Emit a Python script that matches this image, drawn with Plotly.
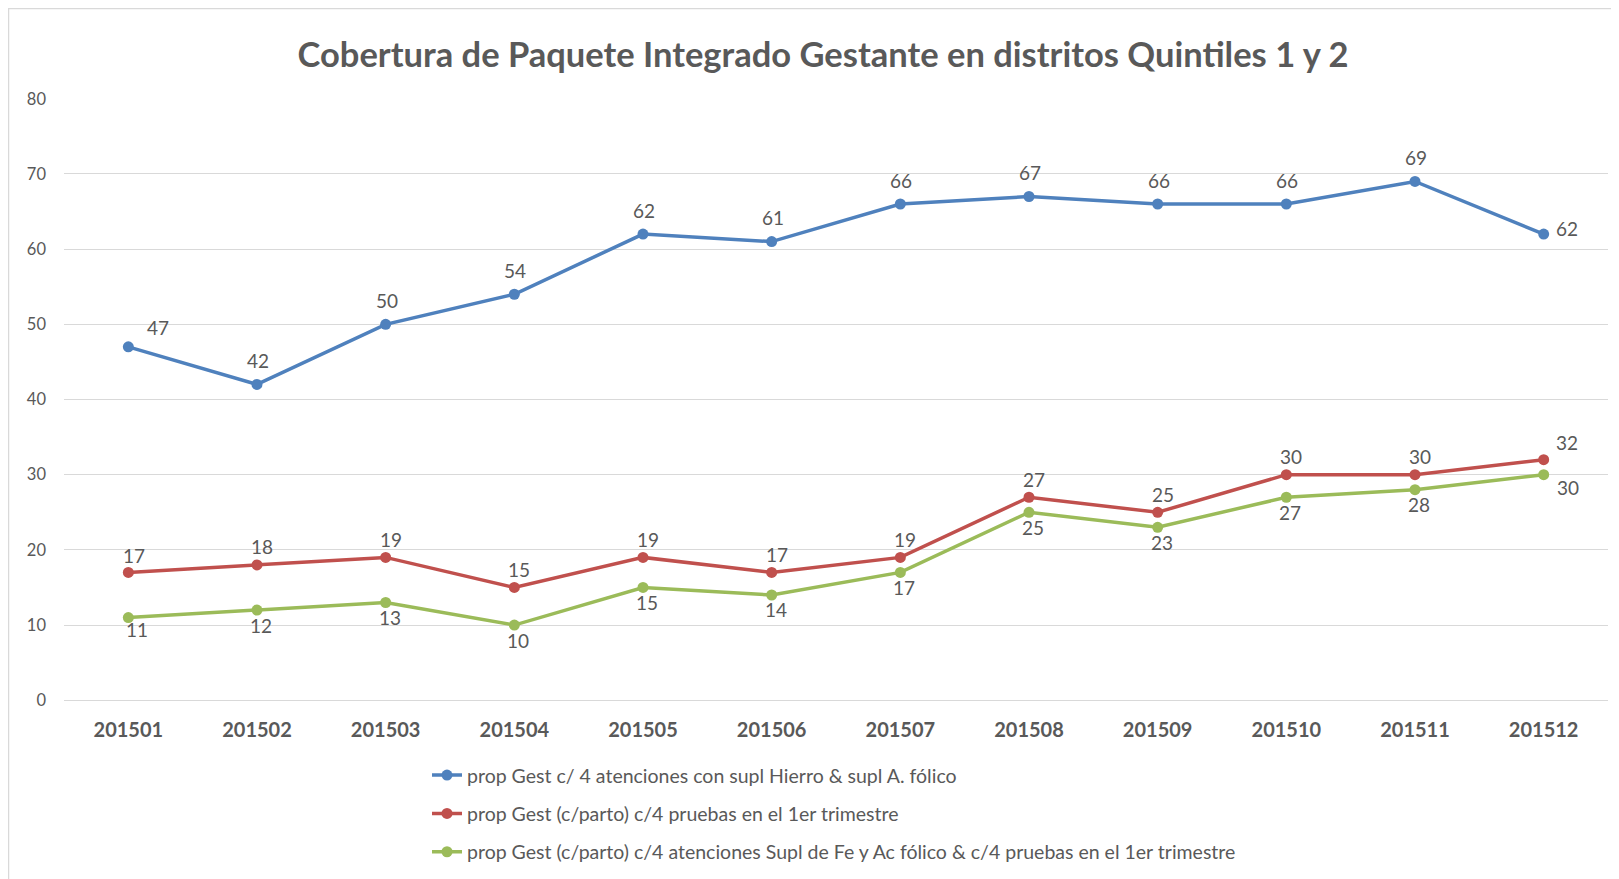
import plotly.graph_objects as go

categories = ["201501", "201502", "201503", "201504", "201505", "201506",
              "201507", "201508", "201509", "201510", "201511", "201512"]
serie_hierro = [47, 42, 50, 54, 62, 61, 66, 67, 66, 66, 69, 62]
serie_pruebas = [17, 18, 19, 15, 19, 17, 19, 27, 25, 30, 30, 32]
serie_completo = [11, 12, 13, 10, 15, 14, 17, 25, 23, 27, 28, 30]

names = [
    "prop Gest c/ 4 atenciones con supl Hierro & supl A. fólico",
    "prop Gest (c/parto) c/4 pruebas en el 1er trimestre",
    "prop Gest (c/parto) c/4 atenciones Supl de Fe y Ac fólico & c/4 pruebas en el 1er trimestre",
]
colors = ["#4F81BD", "#C0504D", "#9BBB59"]

FONT = "Lato"
GRAY = "#595959"

# page offset compensation (body margin of 8px)
W, H = 1611, 871
ML, MR, MT, MB = 56, 11, 90, 178
PW = W - ML - MR
PH = H - MT - MB

# label offsets (px): default, first, last  -> (xshift, yshift)
label_style = [
    dict(default=(1, 24), first=(30, 19), last=(23, 6)),
    dict(default=(5, 18), first=(6, 17), last=(23, 17)),
    dict(default=(4, -15), first=(9, -12), last=(24, -13)),
]

fig = go.Figure()
for k, (vals, name, col) in enumerate([
    (serie_hierro, names[0], colors[0]),
    (serie_pruebas, names[1], colors[1]),
    (serie_completo, names[2], colors[2]),
]):
    fig.add_trace(go.Scatter(
        x=categories, y=vals, name=name, mode="lines+markers",
        line=dict(color=col, width=3.5),
        marker=dict(color=col, size=11),
        legendgroup="g%d" % k, cliponaxis=False,
    ))
    st = label_style[k]
    for i, v in enumerate(vals):
        if i == 0:
            dx, dy = st["first"]
        elif i == len(vals) - 1:
            dx, dy = st["last"]
        else:
            dx, dy = st["default"]
        fig.add_annotation(
            x=i, y=v, xref="x", yref="y", text=str(v), showarrow=False,
            xshift=dx, yshift=dy, xanchor="center", yanchor="middle",
            font=dict(family=FONT, size=19, color=GRAY),
        )

fig.update_layout(
    width=W, height=H,
    paper_bgcolor="white", plot_bgcolor="white",
    margin=dict(l=ML, r=MR, t=MT, b=MB, autoexpand=False),
    title=dict(text="<b>Cobertura de Paquete Integrado Gestante en distritos Quintiles 1 y 2</b>",
               x=815 / W, xanchor="center", y=1 - 47 / H, yanchor="middle",
               font=dict(family=FONT, size=34.5, color=GRAY)),
    font=dict(family=FONT, color=GRAY),
    showlegend=True,
    legend=dict(x=(419 - ML) / PW, xanchor="left", y=-0.091, yanchor="top",
                orientation="v", traceorder="grouped", tracegroupgap=10,
                font=dict(family=FONT, size=19.5, color=GRAY),
                bgcolor="rgba(0,0,0,0)"),
    shapes=[dict(type="rect", xref="paper", yref="paper",
                 x0=(0.5 - ML) / PW, x1=(W + 5 - ML) / PW,
                 y0=(MT + PH - (H + 5)) / PH, y1=(MT + PH - 0.5) / PH,
                 line=dict(color="#D9D9D9", width=1.5), fillcolor="rgba(0,0,0,0)",
                 layer="below")],
)
fig.update_xaxes(type="category", range=[-0.5, 11.5], showgrid=False, showline=False,
                 ticks="", tickfont=dict(family=FONT, size=20, color=GRAY, weight="bold"),
                 ticklabelstandoff=15)
fig.update_yaxes(range=[-0.1, 80.1], dtick=10, tick0=0, showgrid=True, gridcolor="#D9D9D9",
                 gridwidth=1, zeroline=True, zerolinecolor="#D9D9D9", zerolinewidth=1,
                 showline=False, ticks="",
                 tickfont=dict(family=FONT, size=16.5, color=GRAY), ticklabelstandoff=17)

fig.write_html("out.html")
